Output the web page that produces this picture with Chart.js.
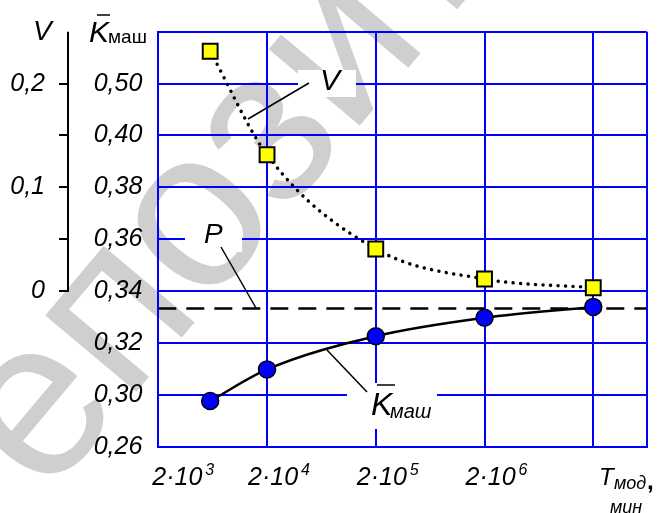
<!DOCTYPE html>
<html><head><meta charset="utf-8">
<script src="https://cdn.jsdelivr.net/npm/chart.js@4.4.1/dist/chart.umd.min.js"></script>
<style>html,body{margin:0;padding:0;background:#fff;}canvas{display:block;}</style>
</head><body>
<canvas id="c" width="660" height="513"></canvas>
<script>
// ---- data ----
const tValues = [6000, 2e4, 2e5, 2e6, 2e7];            // T_мод, мин
const kMash = [0.2976, 0.3098, 0.3226, 0.3297, 0.3339]; // K̄маш
const vValues = [0.2312, 0.1314, 0.0406, 0.0116, 0.0032]; // V
const pLevel = 0.3333;                                   // P
const xTickValues = [2e3, 2e4, 2e5, 2e6, 2e7, 6.2e7];
const xTickLabels = ['2·10^3', '2·10^4', '2·10^5', '2·10^6', '', ''];
const kTickValues = [0.28, 0.30, 0.32, 0.34, 0.36, 0.38, 0.40, 0.42, 0.44];
const kTickLabels = ['0,26', '0,30', '0,32', '0,34', '0,36', '0,38', '0,40', '0,50', ''];
const vTickValues = [0, 0.05, 0.1, 0.15, 0.2];
const vTickLabels = ['0', '', '0,1', '', '0,2'];

const FONT = '"Liberation Sans", Arial, sans-serif';
const BLUE = '#0000ff';

function setFont(ctx, style, size) { ctx.font = style + ' ' + size + 'px ' + FONT; }
function line(ctx, x1, y1, x2, y2, w) {
  ctx.beginPath(); ctx.lineWidth = w; ctx.strokeStyle = '#000';
  ctx.moveTo(x1, y1); ctx.lineTo(x2, y2); ctx.stroke();
}

const decor = {
  id: 'decor',
  beforeDraw(chart) {
    const ctx = chart.ctx;
    ctx.save();
    const size = 225;
    setFont(ctx, 'normal', size);
    const pre = ctx.measureText('Реп').width;
    const wo = ctx.measureText('о').width;
    ctx.translate(200, 225);
    ctx.rotate(-50 * Math.PI / 180);
    ctx.fillStyle = '#cfcfcf';
    ctx.textBaseline = 'alphabetic';
    ctx.fillText('Репозиторий', -(pre + wo / 2), 0.26 * size);
    ctx.restore();
  },
  beforeDatasetsDraw(chart) {
    const ctx = chart.ctx;
    ctx.save();
    ctx.fillStyle = '#fff';
    ctx.fillRect(298, 70, 58, 27);
    ctx.fillRect(185, 226, 57, 26);
    ctx.fillRect(347, 383, 90, 46);
    // V axis line
    const yV = chart.scales.yV;
    ctx.beginPath(); ctx.lineWidth = 2; ctx.strokeStyle = '#000';
    ctx.moveTo(yV.right - 1, chart.chartArea.top);
    ctx.lineTo(yV.right - 1, yV.getPixelForValue(0) + 1);
    ctx.stroke();
    ctx.restore();
  },
  afterDraw(chart) {
    const ctx = chart.ctx;
    const x = chart.scales.x;
    ctx.save();
    ctx.fillStyle = '#000';
    ctx.textBaseline = 'alphabetic';
    ctx.textAlign = 'left';
    // x tick labels with superscripts
    xTickValues.forEach((v, i) => {
      const lab = xTickLabels[i];
      if (!lab) return;
      const [base, exp] = lab.split('^');
      const px = x.getPixelForValue(v);
      const left = Math.max(px - 19, chart.chartArea.left - 6);
      setFont(ctx, 'italic', 25);
      ctx.fillText(base, left, 485);
      const w = ctx.measureText(base).width;
      setFont(ctx, 'italic', 16);
      ctx.fillText(exp, left + w + 3, 475);
    });
    // axis titles
    setFont(ctx, 'italic', 28); ctx.fillText('V', 33, 40);
    setFont(ctx, 'italic', 30); ctx.fillText('K', 89, 42);
    line(ctx, 97, 15, 110, 15, 1.5);
    setFont(ctx, 'normal', 19); ctx.fillText('маш', 108, 43);
    // T label
    setFont(ctx, 'italic', 24); ctx.fillText('T', 599, 485);
    setFont(ctx, 'italic', 18); ctx.fillText('мод', 614, 489);
    setFont(ctx, 'bold', 24); ctx.fillText(',', 647, 489);
    setFont(ctx, 'italic', 18); ctx.fillText('мин', 610, 513);
    // V annotation
    line(ctx, 309, 83, 248, 119, 1.5);
    setFont(ctx, 'italic', 30); ctx.fillText('V', 320, 90);
    // P annotation
    line(ctx, 221, 247, 256, 308, 1.5);
    setFont(ctx, 'italic', 28); ctx.fillText('P', 204, 243);
    // K annotation
    line(ctx, 327, 350, 367, 392, 1.5);
    setFont(ctx, 'italic', 32); ctx.fillText('K', 371, 415);
    line(ctx, 377, 385, 395, 385, 1.5);
    setFont(ctx, 'italic', 20); ctx.fillText('маш', 390, 418);
    ctx.restore();
  }
};

new Chart(document.getElementById('c'), {
  type: 'line',
  data: {
    datasets: [
      {
        label: 'K', yAxisID: 'yK',
        data: tValues.map((t, i) => ({ x: t, y: kMash[i] })),
        borderColor: '#000', borderWidth: 2.5, cubicInterpolationMode: 'monotone',
        pointStyle: 'circle', pointRadius: 8.5, pointBackgroundColor: BLUE,
        pointBorderColor: '#000', pointBorderWidth: 1.5, fill: false
      },
      {
        label: 'V', yAxisID: 'yV',
        data: tValues.map((t, i) => ({ x: t, y: vValues[i] })),
        borderColor: '#000', borderWidth: 3.5, borderDash: [0.01, 7.5], borderCapStyle: 'round',
        cubicInterpolationMode: 'monotone',
        pointStyle: 'rect', pointRadius: 10.5, pointBackgroundColor: '#ffff00',
        pointBorderColor: '#000', pointBorderWidth: 2, fill: false
      },
      {
        label: 'P', yAxisID: 'yK',
        data: [{ x: xTickValues[0], y: pLevel }, { x: xTickValues[xTickValues.length - 1], y: pLevel }],
        borderColor: '#000', borderWidth: 2.5, borderDash: [18, 10], pointRadius: 0, fill: false
      }
    ]
  },
  options: {
    responsive: false, animation: false, events: [],
    layout: { padding: { top: 31.7, right: 13.3, left: 0, bottom: 0 } },
    plugins: { legend: { display: false }, tooltip: { enabled: false } },
    scales: {
      x: {
        type: 'logarithmic', position: 'bottom', min: xTickValues[0], max: xTickValues[xTickValues.length - 1],
        afterBuildTicks: s => { s.ticks = xTickValues.map(v => ({ value: v })); },
        ticks: { display: false },
        grid: { color: BLUE, lineWidth: 2, drawTicks: false },
        border: { color: BLUE, width: 2 },
        afterFit: s => { s.height = 66.3; }
      },
      yK: {
        type: 'linear', position: 'left', weight: 0, min: 0.28, max: 0.44,
        afterBuildTicks: s => { s.ticks = kTickValues.map(v => ({ value: v })); },
        ticks: { callback: (v, i) => kTickLabels[i], font: { family: FONT, size: 25, style: 'italic' }, color: '#000', padding: 16 },
        grid: { color: BLUE, lineWidth: 2, drawTicks: false },
        border: { color: BLUE, width: 2 },
        afterFit: s => { s.width = 89.3; }
      },
      yV: {
        type: 'linear', position: 'left', weight: 1, min: -0.15, max: 0.25,
        afterBuildTicks: s => { s.ticks = vTickValues.map(v => ({ value: v })); },
        ticks: { callback: (v, i) => vTickLabels[i], font: { family: FONT, size: 25, style: 'italic' }, color: '#000', padding: 14 },
        grid: { drawOnChartArea: false, drawTicks: true, tickLength: 10, color: '#000', lineWidth: 2 },
        border: { display: false },
        afterFit: s => { s.width = 69; }
      }
    }
  },
  plugins: [decor]
});
</script>
</body></html>
